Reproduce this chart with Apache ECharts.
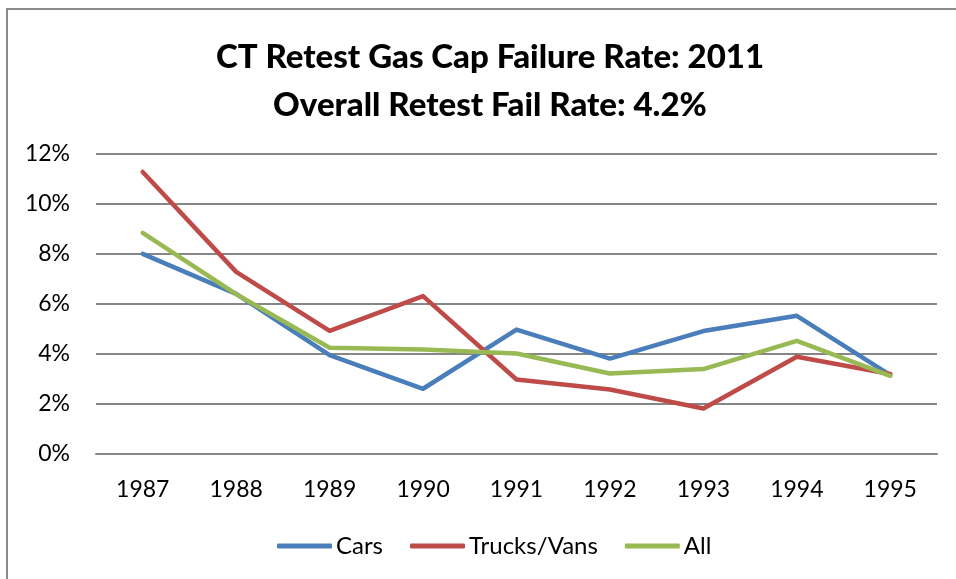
<!DOCTYPE html>
<html>
<head>
<meta charset="utf-8">
<script src="https://cdn.jsdelivr.net/npm/echarts@6/dist/echarts.min.js"></script>
<style>
html,body{margin:0;padding:0;background:#fff;}
#chart{width:956px;height:579px;}
</style>
</head>
<body>
<div id="chart"></div>
<script>
const titleLines = ['CT Retest Gas Cap Failure Rate: 2011', 'Overall Retest Fail Rate: 4.2%'];
const years = ['1987','1988','1989','1990','1991','1992','1993','1994','1995'];
const cars = [8.0, 6.4, 3.95, 2.6, 4.97, 3.81, 4.91, 5.52, 3.15];
const trucksVans = [11.28, 7.28, 4.92, 6.31, 2.97, 2.57, 1.81, 3.88, 3.19];
const all = [8.84, 6.39, 4.24, 4.17, 4.01, 3.21, 3.39, 4.52, 3.12];
const seriesNames = ['Cars', 'Trucks/Vans', 'All'];
const colors = ['#4A7EBB', '#BE4B48', '#98B954'];

const FONT = 'Lato, "Open Sans", sans-serif';
const chart = echarts.init(document.getElementById('chart'), null, {renderer: 'canvas'});
const mk = (name, data, color) => ({
  name, type: 'line', data, showSymbol: false, symbol: 'none',
  lineStyle: {color, width: 4.5, cap: 'round', join: 'round'},
  itemStyle: {color},
  animation: false
});
chart.setOption({
  animation: false,
  title: {
    text: titleLines.join('\n'),
    left: 485, top: 28, textAlign: 'center',
    textStyle: {fontFamily: FONT, fontWeight: 900, fontSize: 33, color: '#000', lineHeight: 48}
  },
  graphic: [{
    type: 'rect', shape: {x: 7, y: 9, width: 960, height: 600},
    style: {fill: 'none', stroke: '#8c8c8c', lineWidth: 2}, silent: true
  }],
  legend: {
    bottom: 16, left: 272,
    itemWidth: 55, itemHeight: 5, itemGap: 27,
    icon: 'roundRect',
    textStyle: {fontFamily: FONT, fontSize: 24, color: '#000', padding: [0,0,0,-1]},
    data: seriesNames
  },
  grid: {left: 96, right: 19, top: 154, bottom: 125.3, containLabel: false},
  xAxis: {
    type: 'category', data: years, boundaryGap: true,
    axisLine: {show: true, lineStyle: {color: '#868686', width: 2}},
    axisTick: {show: false},
    axisLabel: {fontFamily: FONT, fontSize: 23, color: '#000', margin: 24}
  },
  yAxis: {
    type: 'value', min: 0, max: 12, interval: 2,
    axisLine: {show: false}, axisTick: {show: false},
    splitLine: {lineStyle: {color: '#868686', width: 2}},
    axisLabel: {fontFamily: FONT, fontSize: 23, color: '#000', margin: 26, formatter: '{value}%'}
  },
  series: [mk(seriesNames[0], cars, colors[0]), mk(seriesNames[1], trucksVans, colors[1]), mk(seriesNames[2], all, colors[2])]
});
</script>
</body>
</html>
